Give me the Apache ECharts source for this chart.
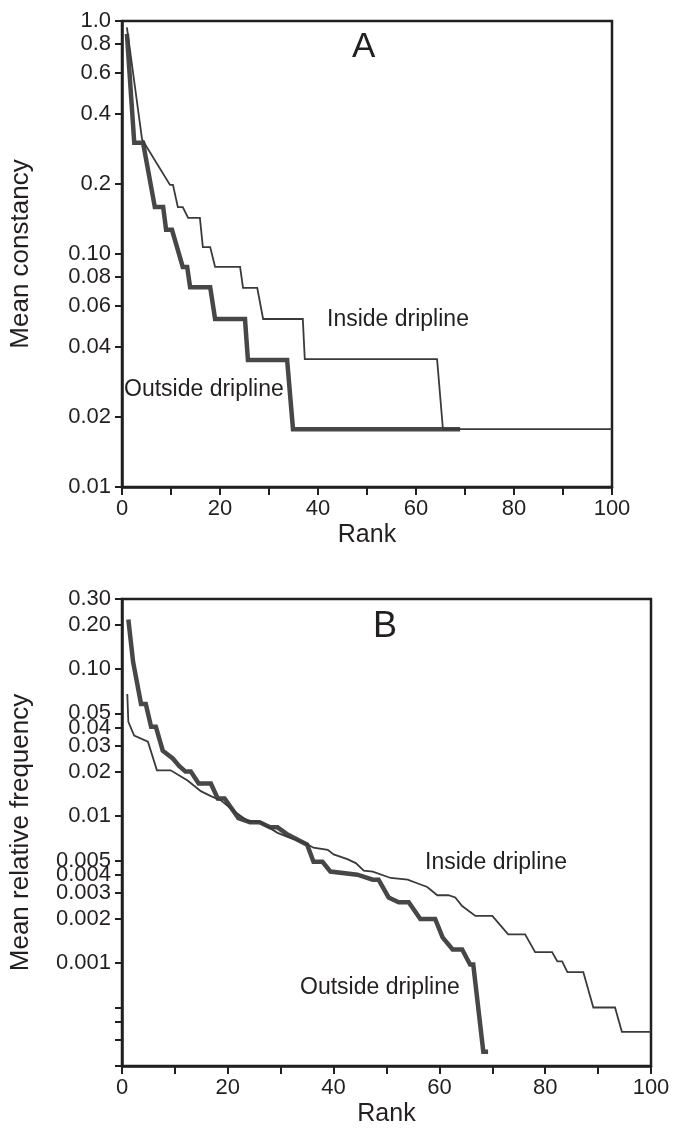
<!DOCTYPE html>
<html>
<head>
<meta charset="utf-8">
<script src="https://cdn.jsdelivr.net/npm/echarts@6/dist/echarts.min.js"></script>
<style>
html,body{margin:0;padding:0;background:#fff;}
#chart{width:673px;height:1128px;}
</style>
</head>
<body>
<div id="chart"></div>
<script>
// ---------- Panel A: mean constancy ----------
const insideA_rank  = [1, 4.1, 9.8, 10.4, 11.4, 12.4, 13.5, 15.9, 16.5, 18, 19, 24.1, 24.7, 27.6, 28.8, 36.9, 37.3, 64.3, 65.5, 100];
const insideA_value = [0.94, 0.31, 0.198, 0.198, 0.159, 0.159, 0.143, 0.143, 0.107, 0.107, 0.088, 0.088, 0.0715, 0.0715, 0.0526, 0.0526, 0.0354, 0.0354, 0.0177, 0.0177];
const outsideA_rank  = [1, 2.5, 4.3, 6.7, 8.4, 9, 10.2, 12.4, 13.3, 13.9, 18, 19, 25.1, 25.7, 33.7, 34.9, 69];
const outsideA_value = [0.88, 0.30, 0.30, 0.159, 0.159, 0.127, 0.127, 0.088, 0.088, 0.072, 0.072, 0.0526, 0.0526, 0.0351, 0.0351, 0.0177, 0.0177];
const yTickValuesA = [0.01, 0.02, 0.04, 0.06, 0.08, 0.1, 0.2, 0.4, 0.6, 0.8, 1.0];
const yTickLabelsA = ['0.01', '0.02', '0.04', '0.06', '0.08', '0.10', '0.2', '0.4', '0.6', '0.8', '1.0'];

// ---------- Panel B: mean relative frequency ----------
const insideB_rank  = [1, 1.2, 2.3, 4.9, 6.6, 9.2, 12.4, 14.9, 16.8, 18.7, 21.2, 23.7, 26.2, 29.4, 31.9, 34.5, 36.2, 38.9, 40, 42.6, 44.2, 45.7, 47.4, 50.8, 54, 55.8, 57.7, 59.6, 61.7, 63, 64.3, 66.8, 70, 73, 76.2, 78.1, 81.3, 82.3, 83.2, 84.2, 87.2, 89.1, 93.2, 94.5, 100];
const insideB_value = [0.0678, 0.0439, 0.0353, 0.0321, 0.0205, 0.0205, 0.0175, 0.0148, 0.0137, 0.0128, 0.0108, 0.0093, 0.0091, 0.0077, 0.0071, 0.0066, 0.0061, 0.0059, 0.0055, 0.0051, 0.0048, 0.00426, 0.0042, 0.0038, 0.0037, 0.0035, 0.0033, 0.0029, 0.0029, 0.0028, 0.00245, 0.0021, 0.0021, 0.00157, 0.00157, 0.00119, 0.00119, 0.00103, 0.00103, 0.00087, 0.00087, 0.0005, 0.0005, 0.000341, 0.000341];
const outsideB_rank  = [1.2, 2.1, 3.6, 4.5, 5.5, 6.4, 7.7, 9.6, 10.8, 12, 13, 14.5, 16.8, 18.1, 19.4, 22, 24.2, 26, 28, 29.4, 31.3, 35, 36.2, 37.9, 39.4, 44.5, 47.4, 48.5, 50.4, 52.3, 54.2, 56.4, 59.2, 60.6, 62.5, 64.3, 65.8, 66.4, 68.3, 69.2];
const outsideB_value = [0.218, 0.112, 0.058, 0.058, 0.0406, 0.0406, 0.0279, 0.0247, 0.022, 0.0201, 0.0201, 0.0167, 0.0167, 0.0132, 0.0132, 0.0097, 0.0091, 0.0091, 0.0084, 0.0084, 0.0075, 0.0064, 0.0049, 0.0049, 0.0042, 0.0040, 0.0037, 0.0037, 0.0028, 0.0026, 0.0026, 0.0020, 0.0020, 0.0015, 0.00124, 0.00124, 0.00098, 0.00098, 0.00025, 0.00025];
const yTickValuesB = [0.0002, 0.0003, 0.0004, 0.0005, 0.001, 0.002, 0.003, 0.004, 0.005, 0.01, 0.02, 0.03, 0.04, 0.05, 0.1, 0.2, 0.3];
const yLabelValuesB = [0.001, 0.002, 0.003, 0.004, 0.005, 0.01, 0.02, 0.03, 0.04, 0.05, 0.1, 0.2, 0.3];
const yTickLabelsB = ['0.001', '0.002', '0.003', '0.004', '0.005', '0.01', '0.02', '0.03', '0.04', '0.05', '0.10', '0.20', '0.30'];

const xTickLabels = ['0', '20', '40', '60', '80', '100'];

const pairs = (xs, ys) => xs.map((x, i) => [x, ys[i]]);
const labelFor = (vals, labs) => (v) => {
  const i = vals.findIndex(t => Math.abs(Math.log10(t) - Math.log10(v)) < 1e-4);
  return i >= 0 ? labs[i] : '';
};

const FONT = 'Liberation Sans, Arial, Helvetica, sans-serif';
const INK = '#231f20';

function xAxisFor(gridIndex) {
  return {
    type: 'value', gridIndex, min: 0, max: 100, interval: 10,
    name: 'Rank', nameLocation: 'middle', nameGap: 36,
    nameTextStyle: { fontFamily: FONT, fontSize: 25, color: INK },
    axisLine: { show: true, lineStyle: { color: INK, width: 2.5 } },
    axisTick: { show: true, inside: false, length: 8, lineStyle: { color: INK, width: 2 } },
    axisLabel: {
      margin: 11, fontFamily: FONT, fontSize: 22, color: INK,
      showMinLabel: true, showMaxLabel: true, hideOverlap: false,
      formatter: (v) => xTickLabels.includes(String(v)) ? String(v) : ''
    },
    splitLine: { show: false }
  };
}

function yAxisFor(gridIndex, min, max, tickVals, labVals, labs, name) {
  return {
    type: 'log', logBase: 10, gridIndex, min, max,
    name, nameLocation: 'middle', nameRotate: 90, nameGap: 88,
    nameTextStyle: { fontFamily: FONT, fontSize: 26, color: INK },
    axisLine: { show: true, lineStyle: { color: INK, width: 2.5 } },
    axisTick: { show: true, inside: false, length: 7, customValues: tickVals, lineStyle: { color: INK, width: 2 } },
    axisLabel: {
      margin: 11, fontFamily: FONT, fontSize: 22, color: INK,
      showMinLabel: true, showMaxLabel: true, hideOverlap: false,
      customValues: labVals,
      formatter: labelFor(labVals, labs)
    },
    minorTick: { show: false },
    splitLine: { show: false }
  };
}

const chart = echarts.init(document.getElementById('chart'), null, { renderer: 'canvas' });
chart.setOption({
  animation: false,
  backgroundColor: '#ffffff',
  grid: [
    { left: 122, top: 21, width: 490, height: 466, show: true, borderColor: INK, borderWidth: 2.5, backgroundColor: 'transparent' },
    { left: 121, top: 599, width: 530, height: 471, show: true, borderColor: INK, borderWidth: 2.5, backgroundColor: 'transparent' }
  ],
  xAxis: [xAxisFor(0), xAxisFor(1)],
  yAxis: [
    yAxisFor(0, 0.01, 1, yTickValuesA, yTickValuesA, yTickLabelsA, 'Mean constancy'),
    yAxisFor(1, 0.0002, 0.3, yTickValuesB, yLabelValuesB, yTickLabelsB, 'Mean relative frequency')
  ],
  series: [
    { name: 'Outside dripline A', type: 'line', xAxisIndex: 0, yAxisIndex: 0, data: pairs(outsideA_rank, outsideA_value),
      symbol: 'none', lineStyle: { color: '#474747', width: 4.5, join: 'miter' } },
    { name: 'Inside dripline A', type: 'line', xAxisIndex: 0, yAxisIndex: 0, data: pairs(insideA_rank, insideA_value),
      symbol: 'none', lineStyle: { color: '#3a3a3a', width: 1.8, join: 'miter' } },
    { name: 'Outside dripline B', type: 'line', xAxisIndex: 1, yAxisIndex: 1, data: pairs(outsideB_rank, outsideB_value),
      symbol: 'none', lineStyle: { color: '#474747', width: 4.5, join: 'miter' } },
    { name: 'Inside dripline B', type: 'line', xAxisIndex: 1, yAxisIndex: 1, data: pairs(insideB_rank, insideB_value),
      symbol: 'none', lineStyle: { color: '#3a3a3a', width: 1.8, join: 'miter' } }
  ],
  graphic: [
    { type: 'text', left: 352, top: 30, style: { text: 'A', font: '35px ' + FONT, fill: INK } },
    { type: 'text', left: 373, top: 609, style: { text: 'B', font: '36px ' + FONT, fill: INK } },
    { type: 'text', left: 327, top: 308, style: { text: 'Inside dripline', font: '23px ' + FONT, fill: INK } },
    { type: 'text', left: 124, top: 378, style: { text: 'Outside dripline', font: '23px ' + FONT, fill: INK } },
    { type: 'text', left: 425, top: 851, style: { text: 'Inside dripline', font: '23px ' + FONT, fill: INK } },
    { type: 'text', left: 300, top: 976, style: { text: 'Outside dripline', font: '23px ' + FONT, fill: INK } }
  ]
});
</script>
</body>
</html>
